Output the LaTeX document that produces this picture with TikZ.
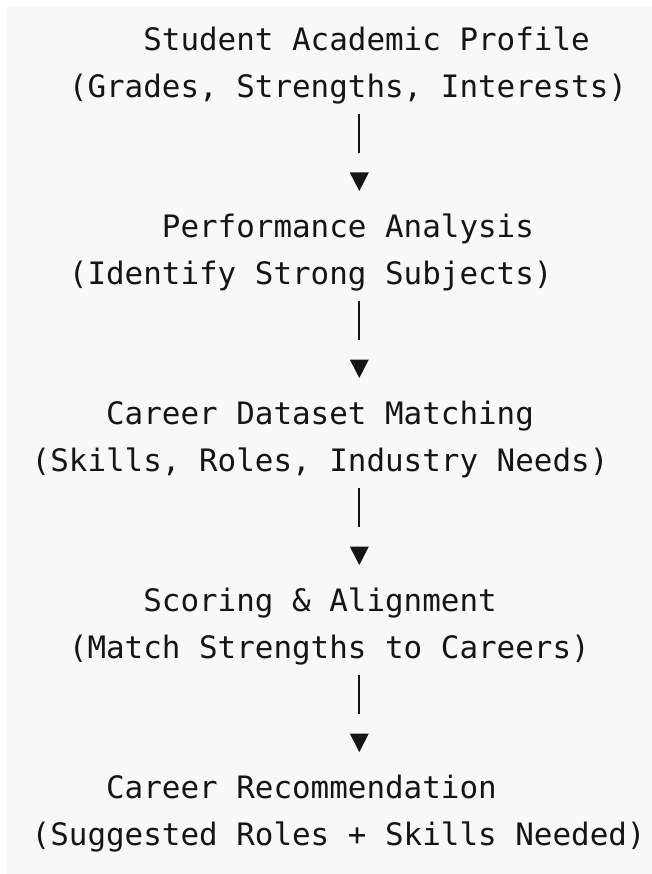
\documentclass[tikz,border=0pt]{standalone}
\usepackage{fontspec}
\setmonofont{DejaVu Sans Mono}
\definecolor{bg}{HTML}{F8F8F8}
\definecolor{ink}{HTML}{151515}
\tikzset{
  line/.style={anchor=base west, inner sep=0pt, outer sep=0pt, text=ink,
    font=\ttfamily\fontsize{30.9}{40}\selectfont},
  vbar/.style={draw=ink, line width=2.2pt},
  tri/.style={fill=ink, draw=none}
}
\newcommand{\colx}[1]{13.1+(#1)*18.6}
\newcommand{\rowy}[1]{50.7+(#1)*46.76}
\begin{document}
\begin{tikzpicture}[x=1pt,y=-1pt]
\useasboundingbox (0,0) rectangle (652,874);
\fill[bg] (7,7) rectangle (652,874);
% text lines
\node[line] (t1) at ({\colx{7}},{\rowy{0}}) {Student Academic Profile};
\node[line] (s1) at ({\colx{3}},{\rowy{1}}) {(Grades, Strengths, Interests)};
\node[line] (t2) at ({\colx{8}},{\rowy{4}}) {Performance Analysis};
\node[line] (s2) at ({\colx{3}},{\rowy{5}}) {(Identify Strong Subjects)};
\node[line] (t3) at ({\colx{5}},{\rowy{8}}) {Career Dataset Matching};
\node[line] (s3) at ({\colx{1}},{\rowy{9}}) {(Skills, Roles, Industry Needs)};
\node[line] (t4) at ({\colx{7}},{\rowy{12}}) {Scoring \& Alignment};
\node[line] (s4) at ({\colx{3}},{\rowy{13}}) {(Match Strengths to Careers)};
\node[line] (t5) at ({\colx{5}},{\rowy{16}}) {Career Recommendation};
\node[line] (s5) at ({\colx{1}},{\rowy{17}}) {(Suggested Roles + Skills Needed)};
% connectors: bar then triangle
\foreach \k/\r in {1/2,2/6,3/10,4/14}{
  \coordinate (b\k T) at (359.3,{\rowy{\r}-30.2});
  \coordinate (b\k B) at (359.3,{\rowy{\r}+8.8});
  \draw[vbar] (b\k T) -- (b\k B);
  \coordinate (a\k L) at (349.8,{\rowy{\r+1}-18.5});
  \coordinate (a\k R) at (368.8,{\rowy{\r+1}-18.5});
  \coordinate (a\k A) at (359.3,{\rowy{\r+1}});
  \fill[tri] (a\k L) -- (a\k R) -- (a\k A) -- cycle;
}
\end{tikzpicture}
\end{document}
